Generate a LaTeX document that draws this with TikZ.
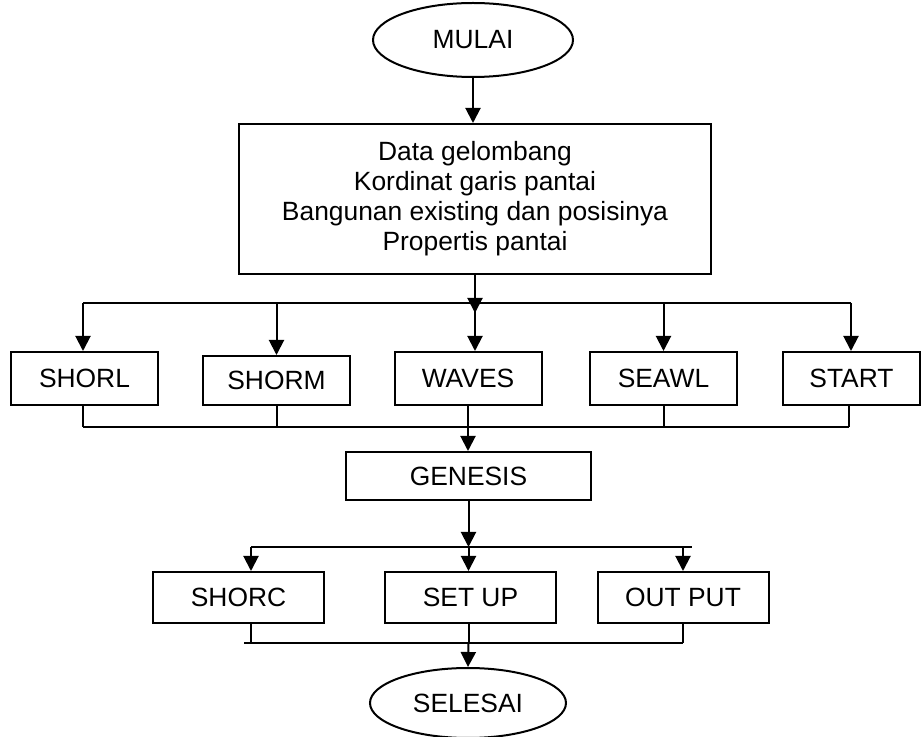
\documentclass[tikz,border=0pt]{standalone}
\usepackage{fontspec}
\setmainfont{Liberation Sans}
\usetikzlibrary{arrows.meta,shapes.geometric,positioning}
\tikzstyle{box}  = [draw,rectangle,line width=1pt,inner sep=0pt,align=center,font=\fontsize{13.2}{15}\selectfont]
\tikzstyle{term} = [draw,ellipse,line width=1pt,inner sep=0pt,font=\fontsize{13.2}{15}\selectfont]
\tikzstyle{rowbox} = [box,minimum width=73.5pt,minimum height=26.5pt]
\tikzstyle{lowbox} = [box,minimum width=85.5pt,minimum height=25.5pt]

\begin{document}
\begin{tikzpicture}[x=0.5pt,y=-0.5pt,>={Triangle[length=7.5pt,width=7.5pt]},line width=1pt]
\useasboundingbox (0,0) rectangle (922,737);

\node[term, minimum width=100pt, minimum height=37pt] (mulai) at (473,40) {MULAI};
\node[box, minimum width=236pt, minimum height=75pt] (data) at (475,199)
  {Data gelombang\\Kordinat garis pantai\\Bangunan existing dan posisinya\\Propertis pantai};

\node[rowbox] (shorl) at (84.5,378.5) {SHORL};
\node[rowbox, minimum height=24.5pt] (shorm) at (276.5,380.5) {SHORM};
\node[rowbox] (waves) at (468,378.5) {WAVES};
\node[rowbox] (seawl) at (663.5,378.5) {SEAWL};
\node[rowbox, minimum width=68.5pt] (start) at (851.5,378.5) {START};

\node[box, minimum width=122.5pt, minimum height=24pt] (genesis) at (468.5,476) {GENESIS};

\node[lowbox] (shorc) at (238.5,597.5) {SHORC};
\node[lowbox] (setup) at (470.5,597.5) {SET UP};
\node[lowbox] (output) at (683,597.5) {OUT PUT};

\node[term, minimum width=98pt, minimum height=35pt] (selesai) at (468,703) {SELESAI};

% split lines
\coordinate (top1) at (475,313);
\coordinate (barL) at (83,303);
\coordinate (barR) at (851,303);
\coordinate (bar2L) at (83,427);
\coordinate (bar2R) at (849,427);
\coordinate (bar3L) at (251,547);
\coordinate (bar3R) at (692,547);
\coordinate (bar4L) at (244,643);
\coordinate (bar4R) at (683,643);

\draw[->] (mulai) -- (mulai |- data.north);
\draw[->] (data.south) -- (top1);
\draw (barL) -- (barR);
\draw[->] (barL) -- (barL |- shorl.north);
\draw[->] (shorm.north |- barL) -- (shorm.north);
\draw[->] (top1 |- barL) -- (top1 |- waves.north);
\draw[->] (seawl.north |- barL) -- (seawl.north);
\draw[->] (barR) -- (barR |- start.north);

\draw (bar2L) -- (bar2R);
\draw (bar2L |- shorl.south) -- (bar2L);
\draw (shorm.south) -- (shorm.south |- bar2L);
\draw (seawl.south) -- (seawl.south |- bar2L);
\draw (bar2R |- start.south) -- (bar2R);
\draw[->] (waves.south) -- (waves.south |- genesis.north);

\draw (bar3L) -- (bar3R);
\draw[->] (genesis.south) -- (genesis.south |- bar3L);
\draw[->] (bar3L) -- (bar3L |- shorc.north);
\draw[->] (genesis.south |- bar3L) -- (genesis.south |- setup.north);
\draw[->] (output.north |- bar3L) -- (output.north);

\draw (bar4L) -- (bar4R);
\draw (bar3L |- shorc.south) -- (bar3L |- bar4L);
\draw (genesis.south |- setup.south) -- (genesis.south |- bar4L);
\draw (output.south) -- (bar4R);
\draw[->] (genesis.south |- bar4L) -- (selesai.north);

\end{tikzpicture}
\end{document}
